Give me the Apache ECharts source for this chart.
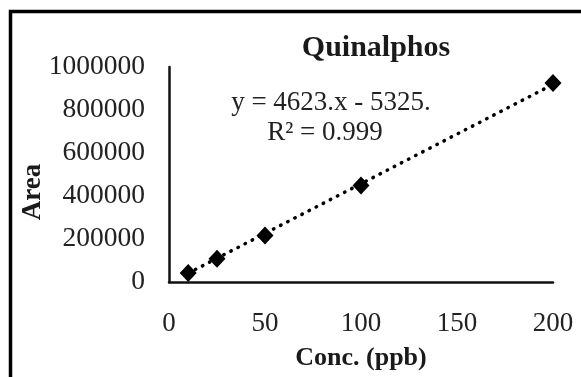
<!DOCTYPE html>
<html>
<head>
<meta charset="utf-8">
<title>Quinalphos</title>
<script src="https://cdn.jsdelivr.net/npm/echarts@6/dist/echarts.min.js"></script>
</head>
<body style="margin:0;padding:0;background:#fff;">
<div id="main" style="width:581px;height:377px;"></div>
<script type="text/javascript">
// calibration points
var concData = [10, 25, 50, 100, 200];
var areaData = [42000, 108000, 216000, 449000, 926000];
// trendline ends
var trendX = [10, 200];
var trendY = [41000, 919000];
var xTicks = [0, 50, 100, 150, 200];
var yTicks = [0, 200000, 400000, 600000, 800000, 1000000];

var serif = '"Liberation Serif", "DejaVu Serif", serif';
var myChart = echarts.init(document.getElementById('main'));

var points = concData.map(function (c, i) { return [c, areaData[i]]; });
var trend = trendX.map(function (c, i) { return [c, trendY[i]]; });

var option = {
    backgroundColor: '#fff',
    animation: false,
    title: {
        text: 'Quinalphos',
        left: 371,
        top: 28,
        textAlign: 'center',
        textStyle: { fontFamily: serif, fontSize: 30, fontWeight: 'bold', color: '#1a1a1a' }
    },
    grid: { left: 169, right: 28, top: 67, bottom: 95 },
    xAxis: {
        type: 'value',
        min: xTicks[0],
        max: xTicks[xTicks.length - 1],
        interval: 50,
        name: 'Conc. (ppb)',
        nameLocation: 'middle',
        nameGap: 63,
        nameTextStyle: { fontFamily: serif, fontSize: 26, fontWeight: 'bold', color: '#1a1a1a' },
        axisLine: { show: true, onZero: false, lineStyle: { color: '#111', width: 2.5 } },
        axisTick: { show: false },
        splitLine: { show: false },
        axisLabel: { margin: 28, fontFamily: serif, fontSize: 27, color: '#222' }
    },
    yAxis: {
        type: 'value',
        min: yTicks[0],
        max: yTicks[yTicks.length - 1],
        interval: 200000,
        axisLine: { show: true, lineStyle: { color: '#111', width: 2.5 } },
        axisTick: { show: false },
        splitLine: { show: false },
        axisLabel: {
            margin: 24, fontFamily: serif, fontSize: 27.5, color: '#222',
            formatter: function (v) { return String(v); }
        }
    },
    graphic: [
        {
            type: 'rect',
            shape: { x: 10.5, y: 11.5, width: 640, height: 420 },
            style: { fill: 'none', stroke: '#000', lineWidth: 3.5 },
            silent: true
        },
        {
            type: 'text',
            x: 33, y: 192,
            rotation: Math.PI / 2,
            style: {
                text: 'Area', fontFamily: serif, fontSize: 27, fontWeight: 'bold',
                fill: '#1a1a1a', align: 'center', verticalAlign: 'middle'
            }
        },
        {
            type: 'text',
            x: 331, y: 103,
            style: {
                text: 'y = 4623.x - 5325.', fontFamily: serif, fontSize: 27,
                fill: '#222', align: 'center', verticalAlign: 'middle'
            }
        },
        {
            type: 'text',
            x: 325, y: 133,
            style: {
                text: 'R\u00b2 = 0.999', fontFamily: serif, fontSize: 27,
                fill: '#222', align: 'center', verticalAlign: 'middle'
            }
        }
    ],
    series: [
        {
            type: 'line',
            data: trend,
            symbol: 'none',
            silent: true,
            lineStyle: { color: '#000', width: 3.5, type: [0.5, 7.5], cap: 'round' },
            z: 2
        },
        {
            type: 'scatter',
            data: points,
            symbol: 'diamond',
            symbolSize: [17, 18],
            itemStyle: { color: '#000', opacity: 1 },
            z: 3
        }
    ]
};
myChart.setOption(option);
</script>
</body>
</html>
